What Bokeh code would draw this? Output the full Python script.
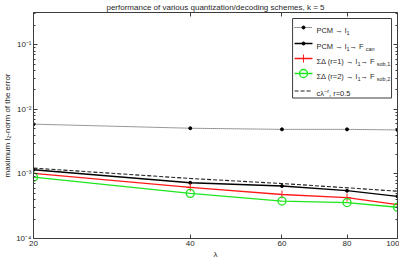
from bokeh.plotting import figure
from bokeh.models import (Range1d, LinearScale, LogAxis, FixedTicker, BasicTickFormatter,
                          CustomJSTickFormatter, Label)
from bokeh.embed import file_html
from bokeh.resources import INLINE

# ---------------- data ----------------
lam = [20, 40, 60, 80, 100]
pcm_l1 = [5.9e-3, 5.1e-3, 4.9e-3, 4.9e-3, 4.8e-3]
pcm_fcan = [1.16e-3, 7.3e-4, 6.5e-4, 5.5e-4, 4.5e-4]
sd1 = [1.02e-3, 6.2e-4, 4.8e-4, 4.3e-4, 3.35e-4]
sd2 = [8.9e-4, 5.0e-4, 3.8e-4, 3.6e-4, 3.05e-4]
ref_curve = [1.23e-3, 8.5e-4, 7.1e-4, 6.1e-4, 5.4e-4]

x_ticks = [20, 40, 60, 80, 100]
y_ticks = [1e-4, 1e-3, 1e-2, 1e-1]
y_tick_labels = ["10\u207b\u2074", "10\u207b\u00b3", "10\u207b\u00b2", "10\u207b\u00b9"]
title_text = "performance of various quantization/decoding schemes, k = 5"
x_label = "\u03bb"
y_label = "maximum l\u2082-norm of the error"
legend_segs = [
    [("PCM \u2192 l", "n"), ("1", "sub")],
    [("PCM \u2192 l", "n"), ("1", "sub"), (" \u2192 F", "n"), ("can", "sub")],
    [("\u03a3\u0394 (r=1) \u2192 l", "n"), ("1", "sub"), (" \u2192 F", "n"), ("sob,1", "sub")],
    [("\u03a3\u0394 (r=2) \u2192 l", "n"), ("1", "sub"), (" \u2192 F", "n"), ("sob,2", "sub")],
    [("c\u03bb", "n"), ("\u2212r", "sup"), (", r=0.5", "n")],
]

# ---------------- style ----------------
FONT = "Liberation Sans"
TXT = "#1f1f1f"
AX = "#3c3c3c"
RED = "#ff1a1a"
GREEN = "#1ee61e"

W, H = 399, 261
ML, MR, MT, MB = 31, 2, 12, 23
FW, FH = W - ML - MR, H - MT - MB

p = figure(width=W, height=H, x_axis_type="log", y_axis_type="log",
           x_range=Range1d(20, 100), y_range=Range1d(1e-4, 10 ** -0.5),
           output_backend="svg", toolbar_location=None,
           min_border_left=ML, min_border_right=MR,
           min_border_top=MT, min_border_bottom=MB)
p.extra_x_ranges = {"px": Range1d(0, FW)}
p.extra_y_ranges = {"px": Range1d(0, FH)}
p.extra_x_scales = {"px": LinearScale()}
p.extra_y_scales = {"px": LinearScale()}
p.xgrid.visible = False
p.ygrid.visible = False
p.outline_line_color = None
p.background_fill_color = "white"
p.border_fill_color = "white"

p.title.text = title_text
p.title.text_font = FONT
p.title.text_font_size = "8px"
p.title.text_font_style = "normal"
p.title.text_color = TXT
p.title.align = "center"
p.title.standoff = 1
p.title.offset = 0

y_minor = [m * 10.0 ** e for e in range(-4, 0) for m in range(2, 10)]
blank = CustomJSTickFormatter(code="return ''")


def style_axis(ax, ticker, show_labels):
    ax.ticker = ticker
    ax.axis_line_color = AX
    ax.major_tick_line_color = AX
    ax.minor_tick_line_color = AX
    ax.major_tick_in = 4
    ax.major_tick_out = 0
    ax.minor_tick_in = 2
    ax.minor_tick_out = 0
    ax.major_label_text_font = FONT
    ax.major_label_text_font_size = "8px"
    ax.major_label_text_color = TXT
    ax.axis_label_text_font = FONT
    ax.axis_label_text_font_size = "8px"
    ax.axis_label_text_font_style = "normal"
    ax.axis_label_text_color = TXT
    ax.axis_label_standoff = 1
    if show_labels:
        ax.major_label_standoff = 2
    else:
        ax.formatter = blank
        ax.major_label_standoff = 0


xa = p.xaxis[0]
style_axis(xa, FixedTicker(ticks=x_ticks, minor_ticks=[]), True)
xa.formatter = BasicTickFormatter()
xa.axis_label = x_label

ya = p.yaxis[0]
style_axis(ya, FixedTicker(ticks=y_ticks, minor_ticks=y_minor), True)
ya.formatter = CustomJSTickFormatter(
    args=dict(vals=y_ticks, labs=y_tick_labels),
    code="""
    const i = vals.findIndex(v => Math.abs(Math.log10(v) - Math.log10(tick)) < 1e-6);
    return i >= 0 ? labs[i] : '';
    """)
ya.axis_label = y_label

top_ax = LogAxis()
style_axis(top_ax, FixedTicker(ticks=x_ticks, minor_ticks=[]), False)
p.add_layout(top_ax, "above")
right_ax = LogAxis()
style_axis(right_ax, FixedTicker(ticks=y_ticks, minor_ticks=y_minor), False)
p.add_layout(right_ax, "right")

# ---------------- data series ----------------
p.line(lam, pcm_l1, line_color="black", line_dash="1 1", line_width=1, line_alpha=0.8)
p.scatter(lam, pcm_l1, marker="circle", size=3, color="black")
p.line(lam, pcm_fcan, line_color="black", line_width=1.3)
p.scatter(lam, pcm_fcan, marker="circle", size=3, color="black")
p.line(lam, sd1, line_color=RED, line_width=1.3)
p.scatter(lam, sd1, marker="cross", size=8, line_color=RED, line_width=1)
p.line(lam, sd2, line_color=GREEN, line_width=1.3)
p.scatter(lam, sd2, marker="circle", size=8, fill_color=None, line_color=GREEN, line_width=1.3)
p.line(lam, ref_curve, line_color="#222222", line_dash="4 2", line_width=1.1)

# ---------------- legend (text built from segments with sub/superscripts) ----------------
ADV = {' ': 278, 'P': 667, 'C': 722, 'M': 833, '\u2192': 1000, 'l': 222, '1': 556, 'F': 611,
       'c': 500, 'a': 556, 'n': 556, '\u03a3': 604, '\u0394': 668, '(': 333, ')': 333, 'r': 333,
       '=': 584, '2': 556, 's': 500, 'o': 556, 'b': 556, ',': 278, '\u03bb': 500, '-': 333,
       '\u2212': 584, '.': 278, '0': 556, '5': 556}


def tw(s, size):
    return sum(ADV.get(c, 556) for c in s) * size / 1000.0


def rich(x, y, segs, size, small, y_off=0.0):
    cum = 0.0
    for text, kind in segs:
        sz = size if kind == "n" else small
        shift = {"n": 0.0, "sub": -2.4, "sup": 3.2}[kind]
        p.add_layout(Label(x=x, y=y, x_offset=cum, y_offset=y_off + shift, text=text,
                           text_font=FONT, text_font_size=f"{sz}px", text_color=TXT,
                           text_baseline="alphabetic", text_align="left",
                           x_range_name="px", y_range_name="px"))
        cum += tw(text, sz)


LG_R = FW - 6
LG_L = LG_R - 99.5
LG_T, LG_B = FH - 6, FH - 85.5
p.quad(left=[LG_L], right=[LG_R], top=[LG_T], bottom=[LG_B], x_range_name="px",
       y_range_name="px", fill_color="white", line_color=AX, line_width=1)
rows = [FH - 15, FH - 31, FH - 46, FH - 61, FH - 78.5]
s0, s1 = LG_L + 2, LG_L + 20
sm = (s0 + s1) / 2
tx = LG_L + 24
kw = dict(x_range_name="px", y_range_name="px")
p.line([s0, s1], [rows[0]] * 2, line_color="black", line_dash="1 1", line_alpha=0.8, **kw)
p.scatter([sm], [rows[0]], marker="circle", size=3, color="black", **kw)
p.line([s0, s1], [rows[1]] * 2, line_color="black", line_width=1.3, **kw)
p.scatter([sm], [rows[1]], marker="circle", size=3, color="black", **kw)
p.line([s0, s1], [rows[2]] * 2, line_color=RED, line_width=1.3, **kw)
p.scatter([sm], [rows[2]], marker="cross", size=8, line_color=RED, **kw)
p.line([s0, s1], [rows[3]] * 2, line_color=GREEN, line_width=1.3, **kw)
p.scatter([sm], [rows[3]], marker="circle", size=8, fill_color=None, line_color=GREEN,
          line_width=1.3, **kw)
p.line([s0, s1], [rows[4]] * 2, line_color="#222222", line_dash="4 2", line_width=1.1, **kw)
for r, segs in zip(rows, legend_segs):
    rich(tx, r, segs, 7.5, 5.5, y_off=-2.7)

open("out.html", "w").write(file_html(p, INLINE))
